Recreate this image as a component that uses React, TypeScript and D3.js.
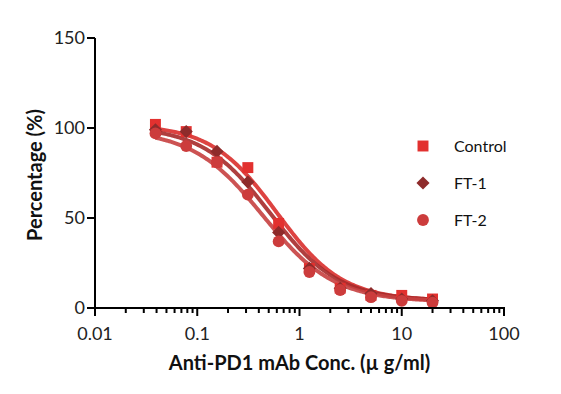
import * as d3 from 'd3';

// concentrations (µg/ml), 2-fold dilution series
const conc = [0.039, 0.078, 0.156, 0.3125, 0.625, 1.25, 2.5, 5, 10, 20];
const controlValues = [102, 98, 81, 78, 47, 22, 11, 7, 7, 5];
const ft1Values = [99, 98, 87, 70, 42, 22, 11, 8, 5, 4];
const ft2Values = [97, 90, 81, 63, 37, 20, 10, 6, 4, 3];

// fitted 4PL parameters: [top, bottom, ec50, hill]
const controlFit = [102, 4, 0.6, 1.35];
const ft1Fit = [101, 4, 0.52, 1.3];
const ft2Fit = [99, 3.5, 0.44, 1.25];

const seriesNames = ['Control', 'FT-1', 'FT-2'];
const xTicks = [0.01, 0.1, 1, 10, 100];
const xTickLabels = ['0.01', '0.1', '1', '10', '100'];
const yTicks = [0, 50, 100, 150];

const width = 561;
const height = 394;
const marginLeft = 95;
const marginTop = 38;
const plotRight = 504;
const plotBottom = 308;

const font = 'Lato, "Open Sans", sans-serif';

function logistic(p: number[], c: number) {
    const [top, bottom, ec50, hill] = p;
    return bottom + (top - bottom) / (1 + Math.pow(c / ec50, hill));
}

const App = () => {
    const x = d3.scaleLog().domain([0.01, 100]).range([marginLeft, plotRight]);
    const y = d3.scaleLinear().domain([0, 150]).range([plotBottom, marginTop]);

    const series = [
        { name: seriesNames[0], values: controlValues, fit: controlFit, color: '#e2312f', line: '#d92f2c', shape: 'square' },
        { name: seriesNames[1], values: ft1Values, fit: ft1Fit, color: '#8e2b2b', line: '#a62a2a', shape: 'diamond' },
        { name: seriesNames[2], values: ft2Values, fit: ft2Fit, color: '#cc3c3c', line: '#c74040', shape: 'circle' },
    ];

    // sample the fitted curve across the measured range
    const lo = Math.log10(conc[0]);
    const hi = Math.log10(conc[conc.length - 1]);
    const fitX = d3.range(0, 201).map(i => Math.pow(10, lo + (hi - lo) * i / 200));

    const line = d3.line<number[]>()
        .x(d => x(d[0]))
        .y(d => y(d[1]));

    const symbolFor = (shape: string) => {
        if (shape === 'square') return d3.symbol(d3.symbolSquare, 120)();
        if (shape === 'diamond') return d3.symbol(d3.symbolDiamond2, 110)();
        return d3.symbol(d3.symbolCircle, 110)();
    };

    const minorTicks: number[] = [];
    for (let dec = 0.01; dec < 100; dec *= 10) {
        for (let k = 2; k <= 9; k++) minorTicks.push(dec * k);
    }

    return (
        <svg width={width} height={height} style={{ position: 'absolute', left: 0, top: 0, background: 'white' }}>
            {/* curves */}
            {series.map(s => (
                <path key={s.name + '-fit'} d={line(fitX.map(c => [c, logistic(s.fit, c)])) || ''}
                    fill="none" stroke={s.line} strokeWidth={4} strokeOpacity={0.9} />
            ))}
            {/* points */}
            {series.map(s => s.values.map((v, i) => (
                <path key={s.name + i} d={symbolFor(s.shape) || ''} fill={s.color}
                    transform={`translate(${x(conc[i])}, ${y(v)})`} />
            )))}

            {/* y axis */}
            <line x1={marginLeft} x2={marginLeft} y1={marginTop} y2={plotBottom + 8} stroke="black" strokeWidth={2} />
            {yTicks.map(t => (
                <g key={t} transform={`translate(${marginLeft}, ${y(t)})`}>
                    <line x1={-8} x2={0} stroke="black" strokeWidth={2} />
                    <text x={-10} dy="0.35em" textAnchor="end" style={{ font: `18px ${font}`, fill: '#222' }}>{t}</text>
                </g>
            ))}

            {/* x axis */}
            <line x1={marginLeft - 8} x2={plotRight + 1} y1={plotBottom} y2={plotBottom} stroke="black" strokeWidth={2} />
            {minorTicks.map(t => (
                <line key={t} x1={x(t)} x2={x(t)} y1={plotBottom} y2={plotBottom + 5} stroke="black" strokeWidth={2} />
            ))}
            {xTicks.map((t, i) => (
                <g key={t} transform={`translate(${x(t)}, ${plotBottom})`}>
                    <line y1={0} y2={8} stroke="black" strokeWidth={2} />
                    <text y={32} textAnchor="middle" style={{ font: `18px ${font}`, fill: '#222' }}>{xTickLabels[i]}</text>
                </g>
            ))}

            {/* axis titles */}
            <text x={(marginLeft + plotRight) / 2} y={370} textAnchor="middle"
                style={{ font: `bold 20px ${font}`, fill: '#111' }}>Anti-PD1 mAb Conc. (µ g/ml)</text>
            <text transform={`translate(42, ${(marginTop + plotBottom) / 2 + 2}) rotate(-90)`} textAnchor="middle"
                style={{ font: `bold 20px ${font}`, fill: '#111' }}>Percentage (%)</text>

            {/* legend */}
            {series.map((s, i) => (
                <g key={s.name + '-legend'} transform={`translate(423, ${146 + i * 37})`}>
                    <path d={symbolFor(s.shape) || ''} fill={s.color} />
                    <text x={31} dy="0.35em" style={{ font: `16px ${font}`, fill: '#111' }}>{s.name}</text>
                </g>
            ))}
        </svg>
    );
};

export default App;
